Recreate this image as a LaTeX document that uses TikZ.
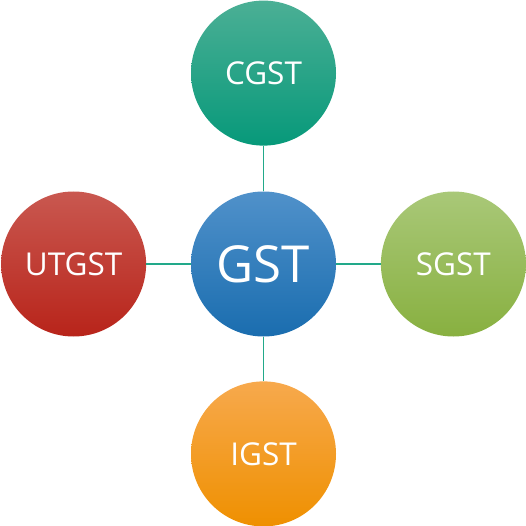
\documentclass[tikz,border=0pt]{standalone}
\usepackage{fontspec}
\setmainfont{Open Sans}
\usetikzlibrary{positioning}
\definecolor{gstT}{HTML}{5091CA}
\definecolor{gstB}{HTML}{1A6DAF}
\definecolor{cgstT}{HTML}{4BAF95}
\definecolor{cgstB}{HTML}{07997A}
\definecolor{sgstT}{HTML}{A9C878}
\definecolor{sgstB}{HTML}{88B040}
\definecolor{utgT}{HTML}{C95850}
\definecolor{utgB}{HTML}{B8241A}
\definecolor{igstT}{HTML}{F7A94D}
\definecolor{igstB}{HTML}{EF9000}
\definecolor{linkc}{HTML}{22A98A}

\begin{document}
\begin{tikzpicture}[x=1pt,y=-1pt,
      bub/.style={circle,minimum size=145pt,inner sep=0pt,text=white,
        shading=axis,shading angle=0,font=\fontsize{31.5}{38}\selectfont},
      link/.style={draw=linkc,line width=1.2pt}]
    \useasboundingbox (0,0) rectangle (526,526);
    \node[bub,top color=gstT,bottom color=gstB,font=\fontsize{51}{60}\selectfont] (g) at (263.5,264) {GST};
    \node[bub,top color=cgstT,bottom color=cgstB,above=45.5pt of g] (c) {CGST};
    \node[bub,top color=sgstT,bottom color=sgstB,right=44.5pt of g] (s) {SGST};
    \node[bub,top color=utgT,bottom color=utgB,left=44.5pt of g] (u) {UTGST};
    \node[bub,top color=igstT,bottom color=igstB,below=44.5pt of g] (i) {IGST};
    \draw[link] (g) -- (c);
    \draw[link] (g) -- (s);
    \draw[link] (g) -- (u);
    \draw[link] (g) -- (i);
  \end{tikzpicture}
\end{document}
